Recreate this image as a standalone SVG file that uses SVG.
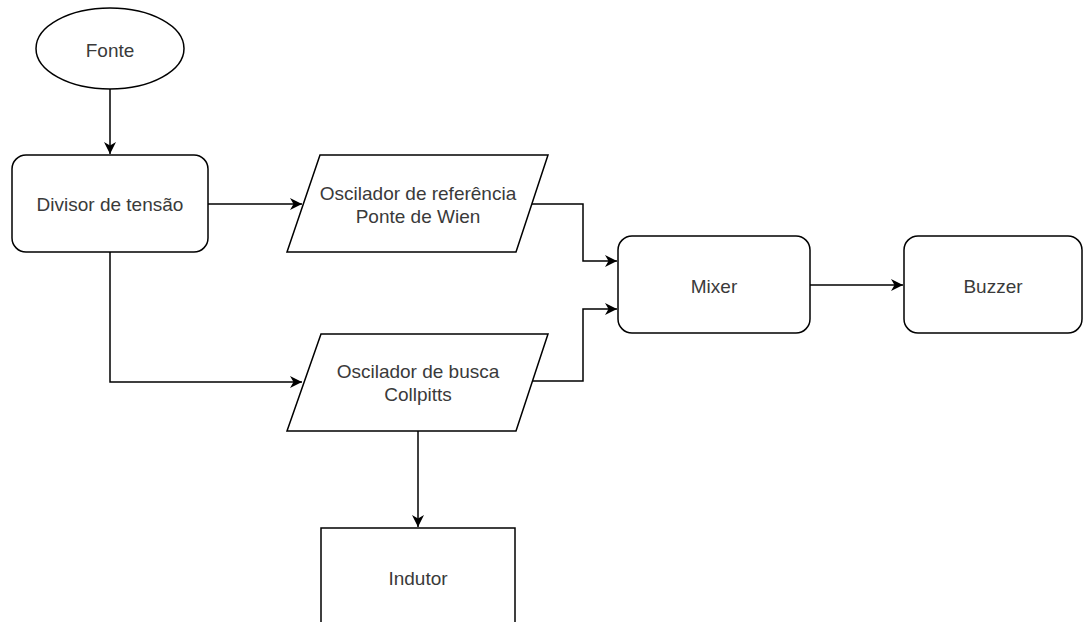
<svg xmlns="http://www.w3.org/2000/svg" width="1092" height="622" viewBox="0 0 1092 622">
<style>
.shape{fill:#ffffff;stroke:#000000;stroke-width:1.5}
.lbl{font-family:"Liberation Sans",Arial,sans-serif;font-size:19px;fill:#3a3a3a;text-anchor:middle}
.edge{fill:none;stroke:#000000;stroke-width:1.5}
</style>
<defs>
<marker id="arr" markerUnits="userSpaceOnUse" markerWidth="14" markerHeight="13" refX="12" refY="6" orient="auto">
<path d="M0,0 L12,6 L0,12 L3.5,6 Z" fill="#000000"/>
</marker>
</defs>
<rect width="1092" height="622" fill="#ffffff"/>
<g id="connectors">
<path class="edge" d="M110,89 L110,154" marker-end="url(#arr)"/>
<path class="edge" d="M208,204 L302,204" marker-end="url(#arr)"/>
<path class="edge" d="M110,252 L110,382 L302,382" marker-end="url(#arr)"/>
<path class="edge" d="M532,204 L583,204 L583,261 L617,261" marker-end="url(#arr)"/>
<path class="edge" d="M532,381 L583,381 L583,309 L617,309" marker-end="url(#arr)"/>
<path class="edge" d="M810,285 L903,285" marker-end="url(#arr)"/>
<path class="edge" d="M418,431 L418,527" marker-end="url(#arr)"/>
</g>
<g id="fonte">
<ellipse class="shape" cx="110" cy="48.5" rx="74" ry="40.5"/>
<text class="lbl" x="110" y="57">Fonte</text>
</g>
<g id="divisor">
<rect class="shape" x="12" y="155" width="196" height="97" rx="14"/>
<text class="lbl" x="110" y="211">Divisor de tensão</text>
</g>
<g id="osc-ref">
<polygon class="shape" points="320,155 548,155 516,252 287,252"/>
<text class="lbl" x="418" y="200">Oscilador de referência</text>
<text class="lbl" x="418" y="223">Ponte de Wien</text>
</g>
<g id="osc-busca">
<polygon class="shape" points="321,334 548,334 516,431 287,431"/>
<text class="lbl" x="418" y="378">Oscilador de busca</text>
<text class="lbl" x="418" y="401">Collpitts</text>
</g>
<g id="mixer">
<rect class="shape" x="618" y="236" width="192" height="97" rx="14"/>
<text class="lbl" x="714" y="293">Mixer</text>
</g>
<g id="buzzer">
<rect class="shape" x="904" y="236" width="178" height="97" rx="14"/>
<text class="lbl" x="993" y="293">Buzzer</text>
</g>
<g id="indutor">
<rect class="shape" x="321" y="528" width="194" height="110"/>
<text class="lbl" x="418" y="585">Indutor</text>
</g>
</svg>
